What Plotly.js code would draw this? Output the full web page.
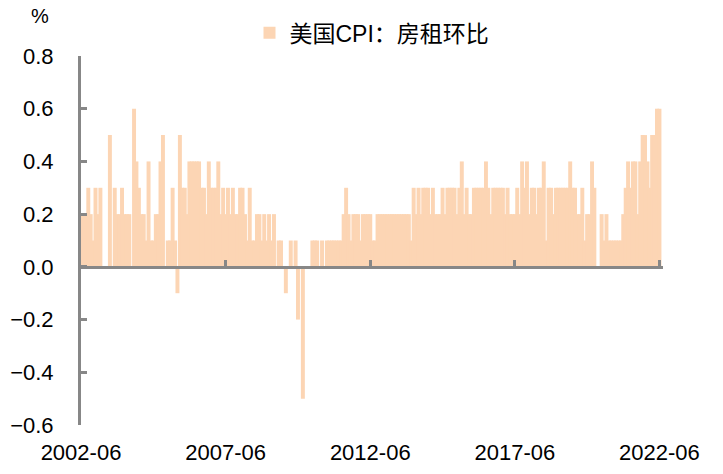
<!DOCTYPE html>
<html>
<head>
<meta charset="utf-8">
<script src="https://cdn.plot.ly/plotly-3.0.1.min.js"></script>
<style>html,body{margin:0;padding:0;background:#fff;}#chart{width:723px;height:474px;}</style>
</head>
<body>
<div id="chart"></div>
<script>
// Monthly categories 2002-06 .. 2022-06
const startYear = 2002, startMonth = 6, monthCount = 241;
const months = [];
for (let k = 0; k < monthCount; k++) {
  const m = startMonth - 1 + k;
  const y = startYear + Math.floor(m / 12);
  const mm = (m % 12) + 1;
  months.push(y + '-' + (mm < 10 ? '0' + mm : mm) + '-01');
}

// 美国CPI：房租环比 (%)
const rentMoM = [
  0.2, 0.2, 0.2, 0.3, 0.2, 0.1, 0.3, 0.2, 0.3, 0,
  0, 0, 0.5, 0, 0.3, 0.2, 0.2, 0.3, 0.2, 0.2,
  0.2, 0, 0.6, 0.4, 0.3, 0.2, 0.2, 0.1, 0.4, 0.1,
  0.1, 0.2, 0.2, 0.4, 0.5, 0, 0.1, 0.1, 0.3, 0.1,
  -0.1, 0.5, 0.3, 0.3, 0.2, 0.4, 0.4, 0.4, 0.4, 0.4,
  0.3, 0.3, 0.2, 0.4, 0.3, 0.3, 0.3, 0.4, 0.2, 0.3,
  0.2, 0.3, 0.2, 0.3, 0.2, 0.2, 0.3, 0.3, 0.2, 0.1,
  0.3, 0.1, 0.1, 0.2, 0.2, 0.1, 0.2, 0.1, 0.2, 0.1,
  0.2, 0, 0.1, 0.1, 0, -0.1, 0, 0.1, 0, 0.1,
  -0.2, 0, -0.5, 0, 0, 0, 0.1, 0.1, 0.1, 0,
  0.1, 0, 0.1, 0.1, 0.1, 0.1, 0.1, 0.1, 0.1, 0.2,
  0.3, 0.2, 0.1, 0.2, 0.2, 0.2, 0.1, 0.2, 0.2, 0.2,
  0.2, 0.1, 0.1, 0.2, 0.2, 0.2, 0.2, 0.2, 0.2, 0.2,
  0.2, 0.2, 0.2, 0.2, 0.2, 0.2, 0.2, 0.1, 0.3, 0.2,
  0.3, 0.2, 0.3, 0.3, 0.3, 0.2, 0.3, 0.2, 0.2, 0.2,
  0.3, 0.2, 0.3, 0.3, 0.3, 0.3, 0.2, 0.3, 0.4, 0.2,
  0.3, 0.2, 0.2, 0.3, 0.3, 0.3, 0.3, 0.3, 0.4, 0.3,
  0.2, 0.3, 0.3, 0.3, 0.3, 0.3, 0.2, 0.3, 0.2, 0.2,
  0.2, 0.3, 0.2, 0.4, 0.3, 0.4, 0.2, 0.3, 0.3, 0.2,
  0.3, 0.3, 0.4, 0.1, 0.3, 0.3, 0.2, 0.3, 0.3, 0.3,
  0.3, 0.3, 0.3, 0.4, 0.3, 0.3, 0.2, 0.2, 0.3, 0.1,
  0.2, 0.2, 0.4, 0.3, 0, 0, 0.2, 0.1, 0.2, 0.1,
  0.1, 0.1, 0.1, 0.1, 0.1, 0.2, 0.3, 0.4, 0.3, 0.4,
  0.4, 0.2, 0.4, 0.5, 0.5, 0.4, 0.3, 0.5, 0.5, 0.6, 0.6
];

const seriesName = '美国CPI：房租环比';
const xTickStart = '2002-06-01';
const xRange = ['2002-06-01', '2022-07-16'];
const yRange = [-0.6, 0.8];

const DAY = 86400000;
const axisGray = '#878787';
const barColor = '#FCD5B4';
const labelFont = {family: 'Liberation Sans, Arial, sans-serif', size: 22, color: '#000000'};

const traces = [
  {
    type: 'bar',
    x: months,
    y: rentMoM,
    name: seriesName,
    width: 50 * DAY,
    marker: {color: barColor, line: {width: 0}},
    hoverinfo: 'x+y'
  },
  {
    type: 'scatter',
    x: [],
    y: [],
    xaxis: 'x2',
    yaxis: 'y',
    showlegend: false,
    hoverinfo: 'skip'
  }
];

const zeroPos = (0 - yRange[0]) / (yRange[1] - yRange[0]);

const layout = {
  width: 723,
  height: 474,
  margin: {l: 81, r: 60, t: 55, b: 49, pad: 0},
  paper_bgcolor: '#ffffff',
  plot_bgcolor: '#ffffff',
  showlegend: true,
  legend: {
    orientation: 'h',
    x: 0.5, xanchor: 'center',
    y: 1.06, yanchor: 'middle',
    font: {family: 'Liberation Sans, Noto Sans CJK SC, sans-serif', size: 23, color: '#000000'},
    bgcolor: 'rgba(0,0,0,0)',
    itemwidth: 30
  },
  xaxis: {
    type: 'date',
    range: xRange,
    tick0: xTickStart,
    dtick: 'M60',
    tickformat: '%Y-%m',
    ticks: '',
    showline: false,
    showgrid: false,
    zeroline: false,
    tickfont: labelFont,
    ticklabelstandoff: 12,
    fixedrange: true
  },
  xaxis2: {
    type: 'date',
    overlaying: 'x',
    anchor: 'free',
    position: zeroPos,
    side: 'bottom',
    range: xRange,
    tick0: xTickStart,
    dtick: 'M60',
    ticks: 'inside',
    ticklen: 6,
    tickwidth: 3,
    tickcolor: axisGray,
    showline: true,
    linewidth: 3,
    linecolor: axisGray,
    showticklabels: false,
    showgrid: false,
    zeroline: false,
    fixedrange: true
  },
  yaxis: {
    range: yRange,
    tick0: 0,
    dtick: 0.2,
    tickformat: '.1f',
    ticks: 'inside',
    ticklen: 6,
    tickwidth: 3,
    tickcolor: axisGray,
    showline: true,
    linewidth: 3,
    linecolor: axisGray,
    showgrid: false,
    zeroline: false,
    tickfont: labelFont,
    ticklabelstandoff: 20,
    fixedrange: true
  },
  annotations: [
    {
      text: '%',
      xref: 'paper', yref: 'paper',
      x: -0.07, y: 1.108,
      xanchor: 'center', yanchor: 'middle',
      showarrow: false,
      font: {family: 'Liberation Sans, Arial, sans-serif', size: 20, color: '#000000'}
    }
  ]
};

Plotly.newPlot('chart', traces, layout, {displayModeBar: false, staticPlot: true});
</script>
</body>
</html>
